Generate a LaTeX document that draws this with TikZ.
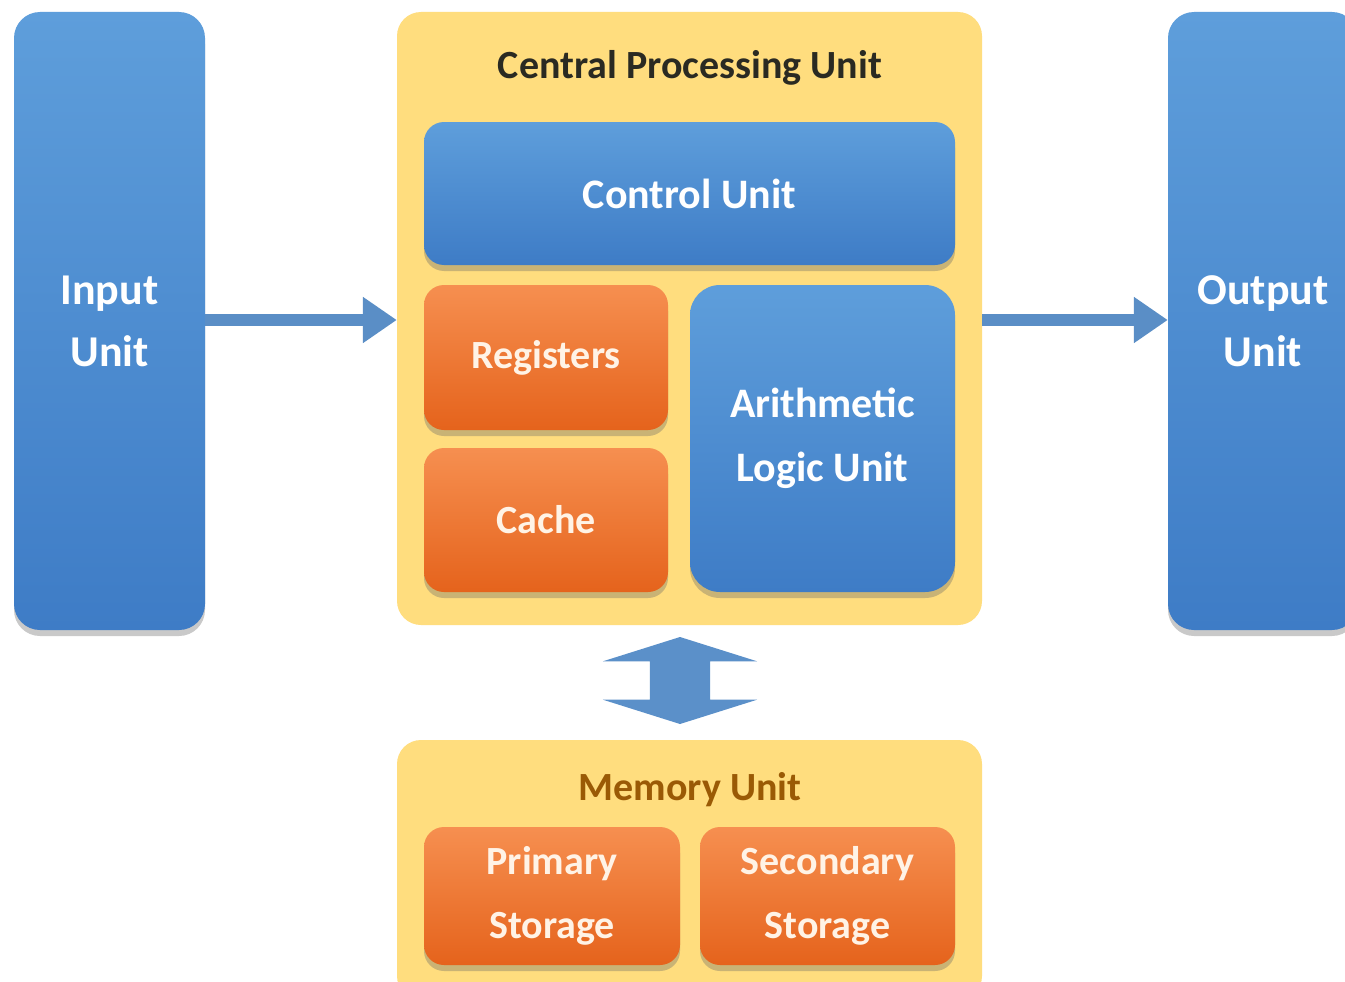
\documentclass[tikz,border=0pt]{standalone}
\usepackage{fontspec}
\setmainfont{Carlito}
\usetikzlibrary{shadows,arrows.meta,shapes.arrows}
\definecolor{bluetop}{HTML}{5E9EDB}
\definecolor{bluebot}{HTML}{3E7CC6}
\definecolor{orgtop}{HTML}{F68F50}
\definecolor{orgbot}{HTML}{E5631C}
\definecolor{yell}{HTML}{FFDD7E}
\definecolor{arrowblue}{HTML}{5A8EC6}
\definecolor{titledark}{HTML}{2A2A22}
\definecolor{membrown}{HTML}{9A5A05}
\definecolor{cream}{HTML}{FFF3E6}
\begin{document}
\begin{tikzpicture}[x=1pt,y=-1pt,
  shade/.style={drop shadow={shadow xshift=0pt,shadow yshift=-6pt,opacity=0.35,fill=black!60}},
  bluebox/.style={rounded corners=26pt,top color=bluetop,bottom color=bluebot,draw=none,
    shade,text=white,align=center,inner sep=0pt,font=\bfseries\fontsize{44}{62}\selectfont},
  orgbox/.style={rounded corners=20pt,top color=orgtop,bottom color=orgbot,draw=none,
    shade,text=cream,align=center,inner sep=0pt,font=\bfseries\fontsize{40}{64}\selectfont},
  yellbox/.style={rounded corners=24pt,fill=yell,draw=none,inner sep=0pt},
  title/.style={font=\bfseries\fontsize{40}{48}\selectfont,inner sep=0pt},
  flow/.style={draw=arrowblue,line width=12pt,-{Triangle[length=34pt,width=44pt]}}
]
\useasboundingbox (0,0) rectangle (1345,982);
\fill[white] (0,0) rectangle (1345,982);

% side units
\node[bluebox,minimum width=191,minimum height=618] (input) at (109.5,321) {Input\\Unit};
\node[bluebox,minimum width=190,minimum height=618] (output) at (1263,321) {Output\\Unit};

% CPU
\node[yellbox,minimum width=585,minimum height=613] (cpu) at (689.5,318.5) {};
\node[title,text=titledark] (cputitle) at (690,68) {Central Processing Unit};
\node[bluebox,rounded corners=20pt,font=\bfseries\fontsize{42}{60}\selectfont,
  minimum width=531,minimum height=143] (cu) at (689.5,193.5) {Control Unit};
\node[orgbox,minimum width=244,minimum height=145] (reg) at (546,357.5) {Registers};
\node[orgbox,minimum width=244,minimum height=144] (cache) at (546,520) {Cache};
\node[bluebox,rounded corners=30pt,font=\bfseries\fontsize{42}{64}\selectfont,
  minimum width=265,minimum height=307] (alu) at (822.5,438.5) {Arithmetic\\Logic Unit};

% Memory
\node[yellbox,minimum width=585,minimum height=260] (mem) at (689.5,870) {};
\node[title,text=membrown] (memtitle) at (690,790) {Memory Unit};
\node[orgbox,minimum width=256,minimum height=138] (prim) at (552,896) {Primary\\Storage};
\node[orgbox,minimum width=255,minimum height=138] (sec) at (827.5,896) {Secondary\\Storage};

% connectors
\draw[flow] (input.east |- 0,320) -- (cpu.west |- 0,320);
\draw[flow] (cpu.east |- 0,320) -- (output.west |- 0,320);
\node[double arrow,rotate=90,fill=arrowblue!85!bluetop,draw=none,inner sep=30pt,
  minimum height=87pt,minimum width=154pt,double arrow head extend=47pt,
  double arrow tip angle=145] (dbl) at (680,680.5) {};
\end{tikzpicture}
\end{document}
